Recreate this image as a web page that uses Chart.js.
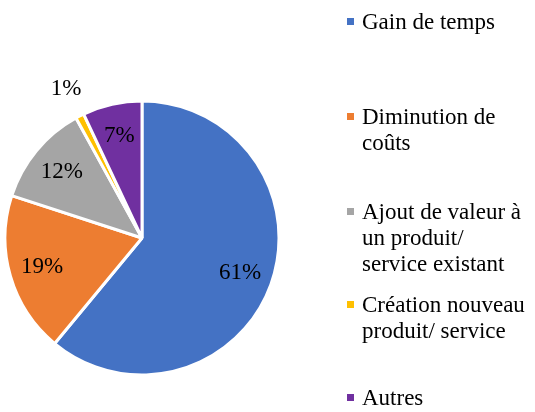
<!DOCTYPE html>
<html>
<head>
<meta charset="utf-8">
<script src="https://cdn.jsdelivr.net/npm/chart.js@4/dist/chart.umd.min.js"></script>
<style>
  html, body { margin: 0; padding: 0; background: #fff; }
  #wrap { position: relative; width: 535px; height: 412px; overflow: hidden; }
  #c { position: absolute; left: 0; top: 0; }
  .leg { position: absolute; left: 347px; font-family: "Liberation Serif", "Times New Roman", serif; font-size: 23px; line-height: 26px; color: #000; white-space: nowrap; }
  .leg .sw { position: absolute; left: 0; top: 9px; width: 7px; height: 7px; }
  .leg .tx { position: absolute; left: 15px; top: 0; }
</style>
</head>
<body>
<div id="wrap">
  <canvas id="c" width="535" height="412"></canvas>
</div>
<script>
const categories = ["Gain de temps", "Diminution de coûts", "Ajout de valeur à un produit/ service existant", "Création nouveau produit/ service", "Autres"];
const legendLines = [["Gain de temps"], ["Diminution de", "coûts"], ["Ajout de valeur à", "un produit/", "service existant"], ["Création nouveau", "produit/ service"], ["Autres"]];
const values = [61, 19, 12, 1, 7];
const valueLabels = ["61%", "19%", "12%", "1%", "7%"];
const colors = ["#4472C4", "#ED7D31", "#A5A5A5", "#FFC000", "#7030A0"];
const legendTops = [9, 104, 199, 292, 385];

const labelPlugin = {
  id: 'pctLabels',
  afterDatasetsDraw(chart) {
    const ctx = chart.ctx;
    const meta = chart.getDatasetMeta(0);
    ctx.save();
    ctx.font = '23px "Liberation Serif", "Times New Roman", serif';
    ctx.fillStyle = '#000';
    ctx.textAlign = 'center';
    ctx.textBaseline = 'middle';
    meta.data.forEach((arc, i) => {
      const p = arc.getProps(['x', 'y', 'startAngle', 'endAngle', 'outerRadius'], true);
      const mid = (p.startAngle + p.endAngle) / 2;
      const share = values[i] / values.reduce((a, b) => a + b, 0);
      const f = share < 0.03 ? 1.22 : 0.76;
      const r = p.outerRadius * f;
      ctx.fillText(valueLabels[i], p.x + Math.cos(mid) * r, p.y + Math.sin(mid) * r);
    });
    ctx.restore();
  }
};

new Chart(document.getElementById('c'), {
  type: 'pie',
  data: {
    labels: categories,
    datasets: [{
      data: values,
      backgroundColor: colors,
      borderColor: '#ffffff',
      borderWidth: 3
    }]
  },
  options: {
    responsive: false,
    animation: false,
    radius: 137,
    layout: { padding: { left: 4, right: 255, top: 100, bottom: 36 } },
    plugins: { legend: { display: false }, tooltip: { enabled: false } }
  },
  plugins: [labelPlugin]
});

const wrap = document.getElementById('wrap');
categories.forEach((cat, i) => {
  const d = document.createElement('div');
  d.className = 'leg';
  d.style.top = legendTops[i] + 'px';
  const sw = document.createElement('span');
  sw.className = 'sw';
  sw.style.background = colors[i];
  const tx = document.createElement('span');
  tx.className = 'tx';
  tx.innerHTML = legendLines[i].join('<br>');
  d.appendChild(sw);
  d.appendChild(tx);
  wrap.appendChild(d);
});
</script>
</body>
</html>
